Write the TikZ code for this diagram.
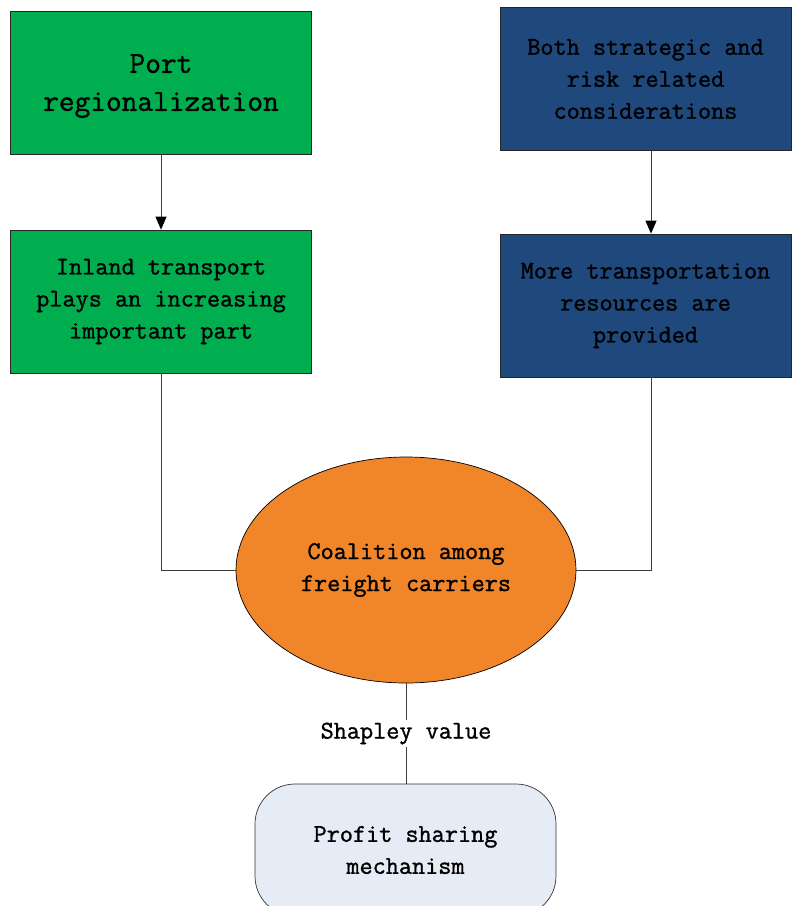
\documentclass[tikz,border=0pt]{standalone}
\usepackage{fontspec}
\setmonofont[FakeBold=1.2]{Latin Modern Mono}
\usetikzlibrary{arrows.meta,shapes.geometric}

\definecolor{boxgreen}{RGB}{0,174,80}
\definecolor{boxblue}{RGB}{31,72,124}
\definecolor{ovalorange}{RGB}{240,133,41}
\definecolor{softblue}{RGB}{230,236,246}
\definecolor{wire}{RGB}{60,60,60}

\tikzset{
  txt/.style={font=\ttfamily\fontsize{25.5}{32}\selectfont, align=center},
  bigtxt/.style={font=\ttfamily\fontsize{30.5}{38}\selectfont, align=center},
  panel/.style={draw=black!85, line width=0.7pt, rectangle, inner sep=0pt,
                minimum width=301pt, minimum height=143pt},
  greenpanel/.style={panel, fill=boxgreen},
  bluepanel/.style={panel, fill=boxblue, minimum width=291pt},
  wirestyle/.style={draw=wire, line width=0.9pt},
  flow/.style={wirestyle, -{Triangle[width=11pt,length=13pt,color=black,fill=black]}},
}

\begin{document}
\begin{tikzpicture}[x=1pt,y=-1pt]
  \useasboundingbox[fill=white] (0,0) rectangle (792,906);

  % left column
  \node[greenpanel, bigtxt, text depth=0pt] (port) at (161,82.5)
    {Port\\regionalization};
  \node[greenpanel, txt] (inland) at (161,301.5)
    {Inland transport\\plays an increasing\\important part};

  % right column
  \node[bluepanel, txt] (both) at (645.5,79)
    {Both strategic and\\risk related\\considerations};
  \node[bluepanel, txt] (more) at (645.5,305.5)
    {More transportation\\resources are\\provided};

  % central coalition
  \node[ellipse, draw=black, line width=0.7pt, fill=ovalorange, inner sep=0pt,
        minimum width=340pt, minimum height=226pt, txt] (coal) at (406,570)
    {Coalition among\\freight carriers};

  % profit sharing box, running past the lower edge
  \node[rectangle, rounded corners=40pt, draw=black!80, line width=0.7pt,
        fill=softblue, minimum width=301pt, minimum height=132pt, inner sep=0pt,
        txt] (profit) at (405.5,850)
    {Profit sharing\\mechanism};

  % connectors
  \draw[flow] (port.south) -- (inland.north);
  \draw[flow] (both.south -| 651,0) -- (more.north -| 651,0);
  \draw[wirestyle] (inland.south) |- (coal.west);
  \draw[wirestyle] (more.south -| 651,0) |- (coal.east);
  \draw[wirestyle] (coal.south) -- (profit.north -| coal.south)
    node[midway, fill=white, inner sep=3pt, txt] (shapley) {Shapley value};
\end{tikzpicture}
\end{document}
